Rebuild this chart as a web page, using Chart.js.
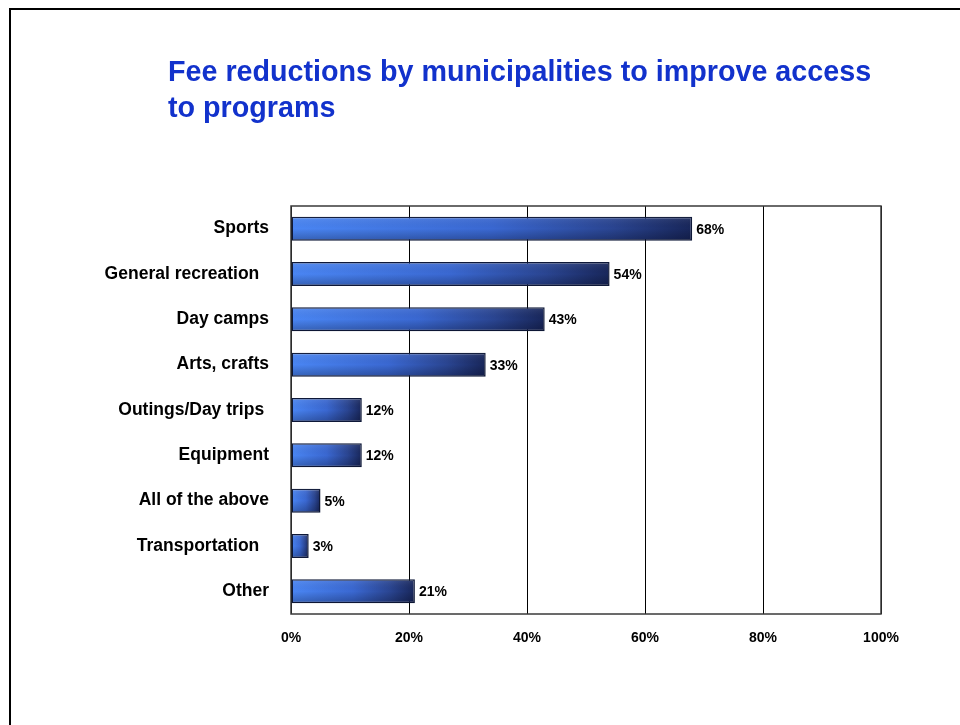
<!DOCTYPE html>
<html>
<head>
<meta charset="utf-8">
<script src="https://cdn.jsdelivr.net/npm/chart.js@4/dist/chart.umd.min.js"></script>
<style>
  html, body { margin: 0; padding: 0; background: #ffffff; overflow: hidden; }
  #frame { position: absolute; left: 9px; top: 8px; width: 1200px; height: 1200px; border: 2.5px solid #000; box-sizing: border-box; }
  #wrap { position: absolute; left: 0; top: 0; width: 960px; height: 725px; }
</style>
</head>
<body>
<div id="frame"></div>
<div id="wrap"><canvas id="chart" width="960" height="725"></canvas></div>
<script>
// Chart content
const titleLines = ['Fee reductions by municipalities to improve access', 'to programs'];
const categories = ['Sports', 'General recreation  ', 'Day camps', 'Arts, crafts', 'Outings/Day trips ', 'Equipment', 'All of the above', 'Transportation  ', 'Other'];
const shares = [68, 54, 43, 33, 12, 12, 5, 3, 21];
const xTicks = [0, 20, 40, 60, 80, 100];

const FONT = '"Liberation Sans", Arial, sans-serif';

// Horizontal shading for each bar: light blue at its base, deep navy at its tip
function barFill(ctx) {
  const chart = ctx.chart;
  if (!chart.chartArea || ctx.type !== 'data') return '#3f6fd8';
  const x = chart.scales.x;
  const x0 = x.getPixelForValue(0);
  const x1 = x.getPixelForValue(ctx.raw);
  const g = chart.ctx.createLinearGradient(x0, 0, Math.max(x1, x0 + 1), 0);
  g.addColorStop(0, '#4a86f4');
  g.addColorStop(0.5, '#3a68d2');
  g.addColorStop(0.8, '#2a4592');
  g.addColorStop(1, '#18265a');
  return g;
}

const titlePlugin = {
  id: 'pageTitle',
  afterDraw(chart) {
    const c = chart.ctx;
    c.save();
    c.fillStyle = '#1232cc';
    c.font = 'bold 28.7px ' + FONT;
    c.textAlign = 'left';
    c.textBaseline = 'alphabetic';
    c.fillText(titleLines[0], 168, 81);
    c.fillText(titleLines[1], 168, 117);
    c.restore();
  }
};

// Frame around the plot area plus a soft darkening along each bar's lower half
const plotFrame = {
  id: 'plotFrame',
  beforeDatasetsDraw(chart) {
    const a = chart.chartArea;
    const c = chart.ctx;
    c.save();
    c.strokeStyle = '#3a3a3a';
    c.lineWidth = 1.5;
    c.strokeRect(a.left, a.top, a.right - a.left, a.bottom - a.top);
    c.restore();
  },
  afterDatasetsDraw(chart) {
    const c = chart.ctx;
    const meta = chart.getDatasetMeta(0);
    c.save();
    meta.data.forEach((bar) => {
      const top = bar.y - bar.height / 2;
      const bot = bar.y + bar.height / 2;
      const g = c.createLinearGradient(0, top, 0, bot);
      g.addColorStop(0, 'rgba(255,255,255,0.10)');
      g.addColorStop(0.5, 'rgba(0,0,0,0)');
      g.addColorStop(1, 'rgba(0,0,20,0.28)');
      c.fillStyle = g;
      c.fillRect(bar.base + 1, top + 1, bar.x - bar.base - 2, bot - top - 2);
    });
    c.restore();
  }
};

const valueLabels = {
  id: 'valueLabels',
  afterDatasetsDraw(chart) {
    const c = chart.ctx;
    const meta = chart.getDatasetMeta(0);
    c.save();
    c.fillStyle = '#000';
    c.font = 'bold 14px ' + FONT;
    c.textAlign = 'left';
    c.textBaseline = 'middle';
    meta.data.forEach((bar, i) => {
      c.fillText(shares[i] + '%', bar.x + 4, bar.y + 1);
    });
    c.restore();
  }
};

new Chart(document.getElementById('chart'), {
  type: 'bar',
  data: {
    labels: categories,
    datasets: [{
      data: shares,
      backgroundColor: barFill,
      borderColor: '#0e1838',
      borderWidth: 1.5,
      borderSkipped: false,
      barPercentage: 0.53,
      categoryPercentage: 1
    }]
  },
  options: {
    indexAxis: 'y',
    responsive: false,
    animation: false,
    events: [],
    layout: { padding: { left: 0, top: 206, right: 79, bottom: 71 } },
    plugins: {
      legend: { display: false },
      title: { display: false },
      tooltip: { enabled: false }
    },
    scales: {
      x: {
        min: 0,
        max: 100,
        afterBuildTicks(scale) { scale.ticks = xTicks.map(v => ({ value: v })); },
        afterFit(scale) { scale.height = 40; },
        border: { display: false },
        grid: { color: '#000', lineWidth: 1, drawTicks: false },
        ticks: {
          padding: 16,
          color: '#000',
          font: { family: FONT, size: 14, weight: 'bold' },
          callback: (v) => v + '%'
        }
      },
      y: {
        afterFit(scale) { scale.width = 291; },
        border: { display: false },
        grid: { display: false, drawTicks: false },
        ticks: {
          padding: 22,
          color: '#000',
          font: { family: FONT, size: 17.5, weight: 'bold' }
        }
      }
    }
  },
  plugins: [titlePlugin, plotFrame, valueLabels]
});
</script>
</body>
</html>
